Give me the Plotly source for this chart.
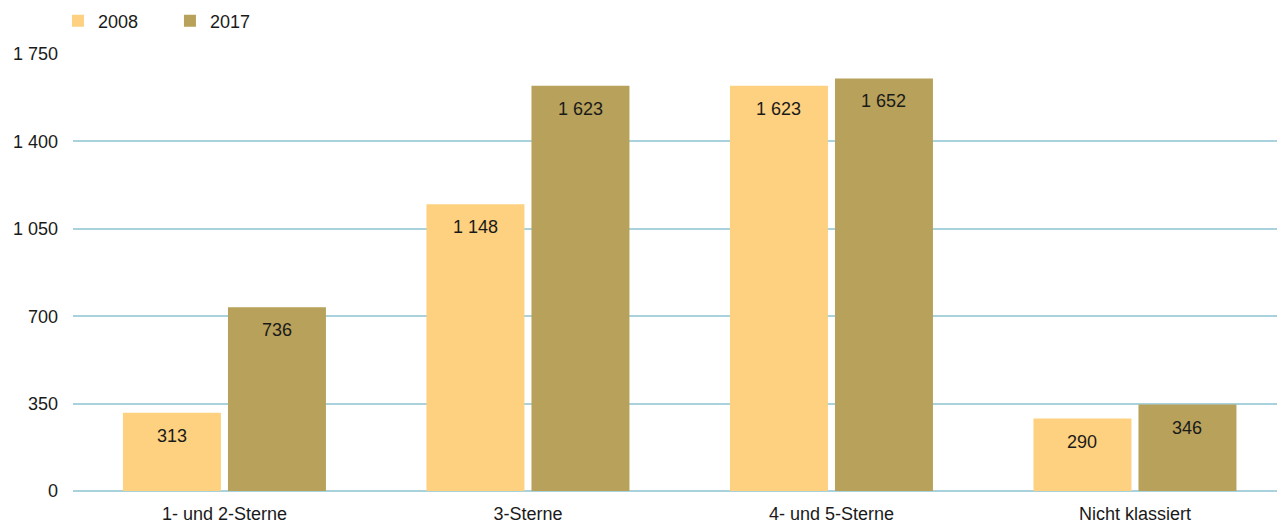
import plotly.graph_objects as go

categories = ["1- und 2-Sterne", "3-Sterne", "4- und 5-Sterne", "Nicht klassiert"]
years = ["2008", "2017"]
values_2008 = [313, 1148, 1623, 290]
values_2017 = [736, 1623, 1652, 346]
y_ticks = [0, 350, 700, 1050, 1400, 1750]
y_tick_labels = ["0", "350", "700", "1 050", "1 400", "1 750"]

colors = {"2008": "#FDD17F", "2017": "#B8A15A"}
font_family = "Liberation Sans, Arial, sans-serif"
fs = 18

fig = go.Figure()
for yr, vals in zip(years, [values_2008, values_2017]):
    fig.add_trace(go.Bar(
        x=categories, y=vals, name=yr,
        marker=dict(color=colors[yr], line=dict(width=0)),
    ))

def fmt(v):
    return f"{v:,}".replace(",", " ")

annotations = []
for i, yr in enumerate(years):
    vals = [values_2008, values_2017][i]
    for j, (c, v) in enumerate(zip(categories, vals)):
        annotations.append(dict(
            x=j, y=v, xref="x", yref="y", text=fmt(v), showarrow=False,
            xshift=(-52.5 if i == 0 else 52.5), yshift=-23, yanchor="middle",
            font=dict(size=fs, color="#1a1a1a", family=font_family),
        ))

fig.update_layout(
    width=1277, height=523,
    margin=dict(l=73, r=0, t=54, b=32),
    paper_bgcolor="white", plot_bgcolor="white",
    barmode="group", bargap=0.308, bargroupgap=0.067,
    font=dict(family=font_family, size=fs, color="#1a1a1a"),
    legend=dict(orientation="h", x=-0.0125, xanchor="left", y=1.0755, yanchor="middle",
                font=dict(size=fs), itemwidth=30, traceorder="normal",
                entrywidth=67, entrywidthmode="pixels"),
    annotations=annotations,
    xaxis=dict(type="category", range=[-0.499, 3.468], showgrid=False, showline=False,
               ticks="", tickfont=dict(size=fs), ticklabelstandoff=10),
    yaxis=dict(range=[0, 1750], tickvals=y_ticks, ticktext=y_tick_labels,
               showgrid=True, gridcolor="#A9D2DC", gridwidth=1.5, zeroline=True,
               zerolinecolor="#A9D2DC", zerolinewidth=1.5, showline=False, ticks="",
               tickfont=dict(size=fs), ticklabelstandoff=14),
)

fig.write_html("out.html")
